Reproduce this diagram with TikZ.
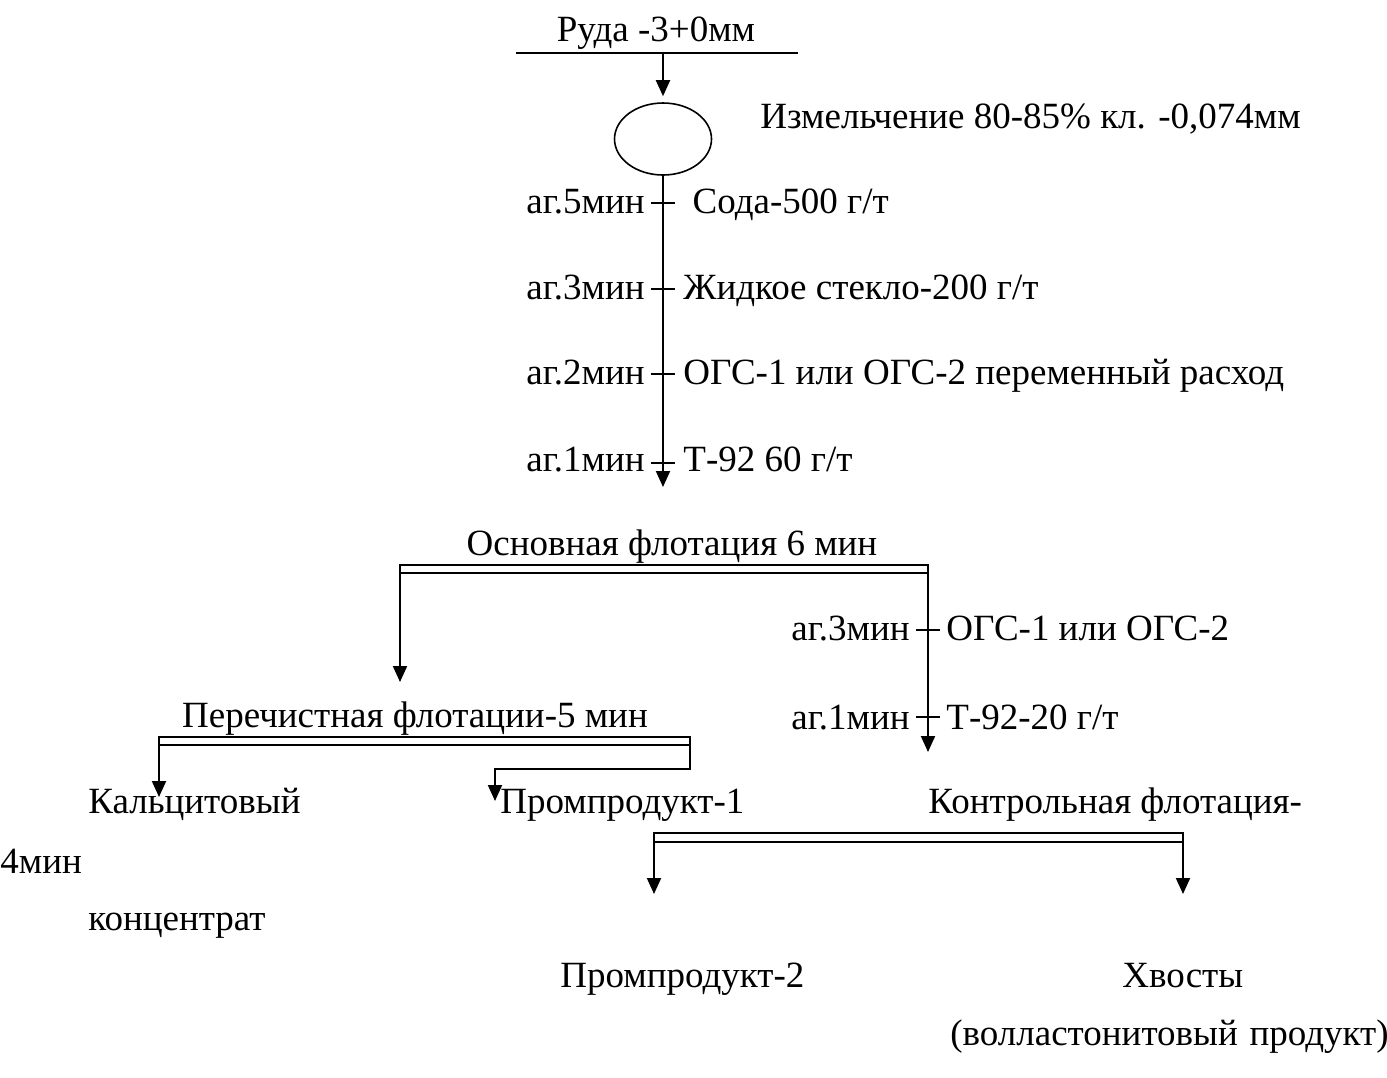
\documentclass[tikz,border=0pt]{standalone}
\usepackage{fontspec}
\setmainfont{Liberation Serif}
\usetikzlibrary{arrows.meta,shapes.geometric}

\begin{document}
\begin{tikzpicture}[x=0.5pt, y=-0.5pt,
    every node/.style={inner sep=0pt, font=\fontsize{18.5}{22}\selectfont},
    txt/.style={anchor=base west},
    rtxt/.style={anchor=base east},
    ctxt/.style={anchor=base},
    flow/.style={line width=1pt, -{Triangle[length=8pt,width=7pt]}},
    plain/.style={line width=0.9pt},
    bar/.style={line width=0.8pt}]
\useasboundingbox (0,0) rectangle (1387,1077);

% feed and grinding
    \node[ctxt] (ore) at (656,41) {Руда -3+0мм};
    \coordinate (oreL) at (516,53);
    \coordinate (oreR) at (798,53);
    \coordinate (oreC) at (663,53);
    \node[draw, ellipse, line width=0.8pt, minimum width=48.5pt, minimum height=36pt] (mill) at (663,139) {};
    \node[txt] (grind) at (760,128) {Измельчение 80-85\% кл. -0,074мм};

  \draw [plain] (oreL) -- (oreR);
  \draw [flow, shorten >=3pt] (oreC) -- (mill.north);

% conditioning
    \coordinate (t5) at (663,203);
    \coordinate (t3) at (663,289);
    \coordinate (t2) at (663,374);
    \coordinate (t1) at (663,463);
    \coordinate (feed) at (663,487);
    \node[rtxt] (ag5) at (645,213) {аг.5мин};
    \node[rtxt] (ag3) at (645,299) {аг.3мин};
    \node[rtxt] (ag2) at (645,384) {аг.2мин};
    \node[rtxt] (ag1) at (645,471) {аг.1мин};
    \node[txt] (soda) at (683,213) {\ Сода-500 г/т};
    \node[txt] (glass) at (683,299) {Жидкое стекло-200 г/т};
    \node[txt] (ogs) at (683,384) {ОГС-1 или ОГС-2 переменный расход};
    \node[txt] (t92) at (683,471) {Т-92 60 г/т};

  \draw [flow] (mill.south) -- (feed);
  \draw [plain] ([xshift=-6pt]t5) -- ([xshift=6pt]t5);
  \draw [plain] ([xshift=-6pt]t3) -- ([xshift=6pt]t3);
  \draw [plain] ([xshift=-6pt]t2) -- ([xshift=6pt]t2);
  \draw [plain] ([xshift=-6pt]t1) -- ([xshift=6pt]t1);

% rougher flotation
    \node[ctxt] (rough) at (672,555) {Основная флотация 6 мин};
    \coordinate (roughL) at (400,565);
    \coordinate (roughR) at (928,573);
    \coordinate (roughTR) at (928,565);
    \coordinate (cleanIn) at (400,682);
    \coordinate (scavIn) at (928,752);
    \coordinate (s3) at (928,630);
    \coordinate (s1) at (928,717);
    \node[rtxt] (sag3) at (910,640) {аг.3мин};
    \node[rtxt] (sag1) at (910,729) {аг.1мин};
    \node[txt] (sogs) at (946,640) {ОГС-1 или ОГС-2};
    \node[txt] (st92) at (946,729) {Т-92-20 г/т};

  \draw [bar] (roughL) rectangle (roughR);
  \draw [flow] (roughL) -- (cleanIn);
  \draw [flow] (roughTR) -- (scavIn);
  \draw [plain] ([xshift=-6pt]s3) -- ([xshift=6pt]s3);
  \draw [plain] ([xshift=-6pt]s1) -- ([xshift=6pt]s1);

% cleaner flotation
    \node[ctxt] (clean) at (415,727) {Перечистная флотации-5 мин};
    \coordinate (cleanL) at (159,737);
    \coordinate (cleanR) at (690,745);
    \coordinate (cleanBend) at (690,769);
    \coordinate (midBend) at (495,769);
    \coordinate (concOut) at (159,797);
    \coordinate (midOut) at (495,801);

  \draw [bar] (cleanL) rectangle (cleanR);
  \draw [flow] (cleanL) -- (concOut);
  \draw [flow] (cleanR) -- (cleanBend) -- (midBend) -- (midOut);

% products and scavenger
    \node[txt] (calc) at (88,813) {Кальцитовый};
    \node[txt] (mid1) at (500,813) {Промпродукт-1};
    \node[txt] (scav) at (928,813) {Контрольная флотация-};
    \node[txt] (scavT) at (0,873) {4мин};
    \node[txt] (conc) at (88,930) {концентрат};
    \node[txt] (mid2) at (560,987) {Промпродукт-2};
    \node[txt] (tail) at (1122,987) {Хвосты};
    \node[txt] (woll) at (950,1045) {(волластонитовый\hspace{0.32em}продукт)};
    \coordinate (scavL) at (654,833);
    \coordinate (scavR) at (1183,842);
    \coordinate (scavTR) at (1183,833);
    \coordinate (mid2In) at (654,894);
    \coordinate (tailIn) at (1183,894);

  \draw [bar] (scavL) rectangle (scavR);
  \draw [flow] (scavL) -- (mid2In);
  \draw [flow] (scavTR) -- (tailIn);

\end{tikzpicture}
\end{document}
